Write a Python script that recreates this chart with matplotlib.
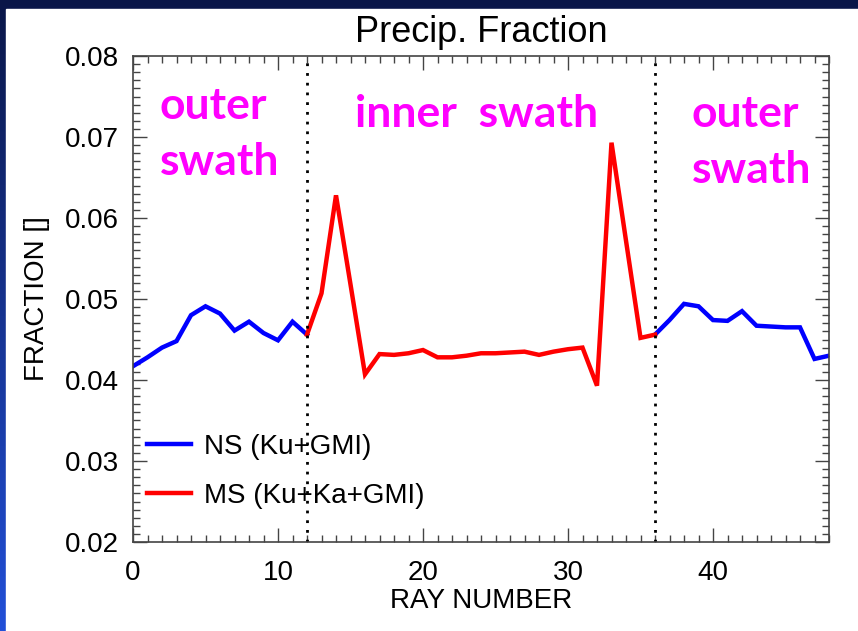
import numpy as np
import matplotlib
matplotlib.use("Agg")
import matplotlib.pyplot as plt
from matplotlib.colors import LinearSegmentedColormap
from matplotlib.patches import Rectangle
from matplotlib.ticker import MultipleLocator, FormatStrFormatter

plt.rcParams['font.family'] = ['Liberation Sans', 'DejaVu Sans']

# ray numbers and precip fraction
rays = np.arange(49)
ns_outer_left = [0.0417, 0.0428, 0.0440, 0.0448, 0.0480, 0.0491, 0.0482, 0.0461,
                 0.0472, 0.0458, 0.0449, 0.0472, 0.0456]
ns_outer_right = [0.0456, 0.0474, 0.0494, 0.0491, 0.0474, 0.0473, 0.0485, 0.0467,
                  0.0466, 0.0465, 0.0465, 0.0426, 0.0430]
ms_inner = [0.0456, 0.0507, 0.0628, 0.0518, 0.0407, 0.0432, 0.0431, 0.0433, 0.0437,
            0.0428, 0.0428, 0.0430, 0.0433, 0.0433, 0.0434, 0.0435, 0.0431, 0.0435,
            0.0438, 0.0440, 0.0393, 0.0693, 0.0572, 0.0452, 0.0456]
swath_edges = [12, 36]
ns_label = "NS (Ku+GMI)"
ms_label = "MS (Ku+Ka+GMI)"

# NS only shown over the outer swaths
ns = np.full(len(rays), np.nan)
ns[:13] = ns_outer_left
ns[36:] = ns_outer_right
ms_rays = rays[12:37]

W, H = 858, 631
fig = plt.figure(figsize=(W / 100, H / 100), dpi=100)

# slide-style background: blue gradient frame with white panel
bg = fig.add_axes([0, 0, 1, 1], zorder=-10)
cmap = LinearSegmentedColormap.from_list("frame", ["#2250d8", "#0a1648"])
grad = np.linspace(0, 1, 256).reshape(-1, 1)
bg.imshow(grad, aspect='auto', extent=[0, 1, 0, 1], cmap=cmap, origin='lower')
bg.add_patch(Rectangle((6 / W, 0), 1, (H - 9) / H, color='white', transform=bg.transAxes))
bg.set_xlim(0, 1)
bg.set_ylim(0, 1)
bg.axis('off')

ax = fig.add_axes([133 / W, (H - 542) / H, (829 - 133) / W, (542 - 56) / H])
ax.set_facecolor('white')

ax.plot(rays, ns, color='#0000ff', lw=3.2, label=ns_label, solid_joinstyle='miter')
ax.plot(ms_rays, ms_inner, color='#ff0000', lw=3.2, label=ms_label, solid_joinstyle='miter')
for e in swath_edges:
    ax.axvline(e, color='black', ls=(0, (1, 2.5)), lw=2)

ax.set_xlim(0, 48)
ax.set_ylim(0.02, 0.08)
ax.xaxis.set_major_locator(MultipleLocator(10))
ax.xaxis.set_minor_locator(MultipleLocator(1))
ax.yaxis.set_major_locator(MultipleLocator(0.01))
ax.yaxis.set_minor_locator(MultipleLocator(0.001))
ax.yaxis.set_major_formatter(FormatStrFormatter('%.2f'))
ax.tick_params(which='both', direction='in', top=True, right=True, color='#444444',
               labelsize=20, width=1)
ax.tick_params(which='major', length=10, pad=10)
ax.tick_params(which='minor', length=5)
ax.tick_params(axis='x', which='major', pad=13)
for s in ax.spines.values():
    s.set_color('#444444')
    s.set_linewidth(1.2)

ax.set_title("Precip. Fraction", fontsize=26, pad=10)
ax.set_xlabel("RAY NUMBER", fontsize=20)
ax.set_ylabel("FRACTION []", fontsize=20)
ax.xaxis.set_label_coords(0.5, -0.095)
ax.yaxis.set_label_coords(-0.119, 0.5)

# multi-line text: y is the baseline of the last line
anno = dict(color='#ff00ff', fontsize=32, fontweight='bold', family=['Lato', 'DejaVu Sans'],
            va='baseline', ha='left', linespacing=1.48)
ax.text(1.86, 0.0653, "outer\nswath", **anno)
ax.text(15.3, 0.0712, "inner  swath", **anno)
ax.text(38.55, 0.0643, "outer\nswath", **anno)

ax.legend(loc='lower left', bbox_to_anchor=(0.02, 0.068), frameon=False, fontsize=20,
          handlelength=1.6, handletextpad=0.47, labelspacing=0.82, borderpad=0,
          borderaxespad=0)

fig.savefig("out.png", dpi=100)
